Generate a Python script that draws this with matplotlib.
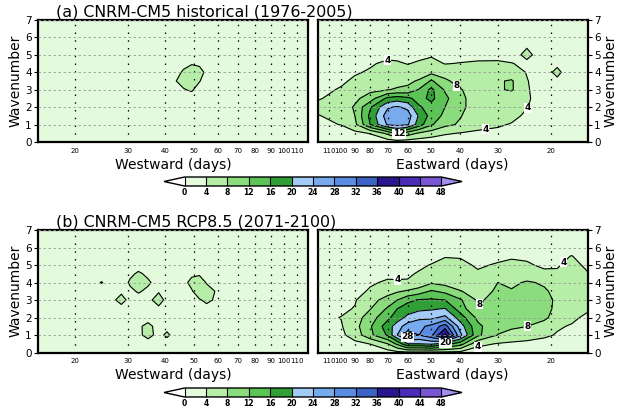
import numpy as np
import matplotlib
matplotlib.use('Agg')
import matplotlib.pyplot as plt
from matplotlib.colors import ListedColormap, BoundaryNorm

# ---- grid: wavenumber rows, period (days) columns ----
wavenumber = [0, 0.5, 1, 1.5, 2, 2.5, 3, 3.5, 4, 4.5, 5, 5.5, 6, 6.5, 7]
periods_east = [120, 100, 90, 80, 70, 65, 60, 55, 50, 45, 40, 35, 30, 27, 24, 21, 19, 17, 15]
periods_west = [15, 18, 21, 24.5, 26.5, 28.5, 30.5, 32.5, 35, 38, 40.5, 43, 46, 49, 52, 55, 60, 70, 85, 100, 120]

# (a) historical, westward
power_a_west = [
    [2.0] * 21,
    [2.4] * 21,
    [2.6] * 21,
    [2.7] * 21,
    [2.8, 2.8, 2.8, 2.8, 2.8, 2.8, 2.8, 2.8, 2.8, 2.8, 2.8, 2.9, 3.0, 3.0, 2.9, 2.8, 2.8, 2.8, 2.8, 2.8, 2.8],
    [2.8, 2.8, 2.8, 2.8, 2.8, 2.8, 2.8, 2.8, 2.8, 2.8, 2.9, 3.0, 3.3, 3.3, 3.1, 2.9, 2.8, 2.8, 2.8, 2.8, 2.8],
    [2.8, 2.8, 2.8, 2.8, 2.8, 2.8, 2.8, 2.8, 2.8, 2.9, 3.0, 3.3, 3.9, 4.2, 3.3, 3.0, 2.9, 2.8, 2.8, 2.8, 2.8],
    [2.8, 2.8, 2.8, 2.8, 2.8, 2.8, 2.8, 2.8, 2.8, 2.9, 3.1, 3.9, 4.5, 4.8, 4.1, 3.2, 2.9, 2.8, 2.8, 2.8, 2.8],
    [2.8, 2.8, 2.8, 2.8, 2.8, 2.8, 2.8, 2.8, 2.8, 2.9, 3.0, 3.2, 4.3, 4.7, 4.3, 3.8, 3.0, 2.8, 2.8, 2.8, 2.8],
    [2.7, 2.7, 2.7, 2.7, 2.7, 2.7, 2.7, 2.7, 2.7, 2.8, 2.9, 3.0, 3.4, 3.9, 3.85, 3.3, 2.9, 2.7, 2.7, 2.7, 2.7],
    [2.7, 2.7, 2.7, 2.7, 2.7, 2.7, 2.7, 2.7, 2.7, 2.7, 2.8, 2.8, 2.9, 3.1, 3.0, 2.8, 2.7, 2.7, 2.7, 2.7, 2.7],
    [2.6] * 21,
    [2.5] * 21,
    [2.4] * 21,
    [2.2] * 21,
]

# (a) historical, eastward
power_a_east = [
    [1.5, 1.5, 1.5, 1.5, 1.8, 2.0, 2.0, 1.8, 1.6, 1.5, 1.5, 1.5, 1.5, 1.5, 1.5, 1.5, 1.5, 1.5, 1.5],
    [2.0, 2.5, 3.0, 4.2, 9.0, 13.0, 10.0, 7.5, 6.0, 4.5, 3.8, 3.5, 3.2, 3.0, 2.6, 2.2, 2.0, 2.0, 2.0],
    [3.2, 4.1, 7.0, 16.0, 24.5, 25.5, 24.5, 18.0, 12.5, 9.0, 7.5, 5.0, 4.4, 3.8, 2.8, 2.3, 2.1, 2.0, 2.0],
    [3.8, 5.0, 8.0, 17.0, 26.0, 27.5, 26.0, 19.5, 14.5, 11.0, 8.2, 6.0, 5.0, 4.8, 3.5, 2.5, 2.2, 2.0, 2.0],
    [5.0, 5.5, 8.5, 15.5, 23.5, 24.5, 23.0, 16.5, 14.5, 12.0, 9.0, 6.0, 5.5, 5.0, 4.1, 3.0, 2.5, 2.0, 2.0],
    [3.7, 5.0, 7.0, 10.0, 17.0, 18.0, 17.0, 14.5, 17.0, 13.0, 9.0, 6.0, 5.5, 5.0, 4.3, 3.0, 2.5, 2.0, 2.0],
    [3.0, 4.3, 5.5, 7.0, 7.8, 8.5, 9.0, 12.3, 17.0, 11.5, 8.3, 6.0, 7.5, 8.5, 4.2, 3.0, 2.5, 2.0, 2.0],
    [2.5, 3.5, 4.5, 5.5, 6.0, 6.5, 7.0, 8.5, 12.5, 9.0, 6.0, 5.5, 7.5, 8.5, 4.1, 3.0, 3.5, 2.5, 2.0],
    [2.0, 3.0, 3.7, 4.3, 5.0, 5.0, 5.0, 5.5, 7.0, 5.5, 5.0, 4.8, 5.0, 5.0, 3.9, 3.0, 4.6, 2.5, 2.0],
    [2.0, 2.5, 3.0, 3.7, 4.5, 4.3, 3.9, 4.3, 4.8, 3.9, 4.1, 4.3, 4.4, 4.1, 3.5, 3.0, 3.5, 2.5, 2.0],
    [1.5, 2.0, 2.3, 2.8, 3.3, 3.3, 3.2, 3.4, 3.7, 3.0, 3.2, 3.3, 3.2, 3.0, 4.6, 2.8, 2.5, 2.2, 2.0],
    [1.5, 1.8, 2.0, 2.3, 2.6, 2.7, 2.7, 2.8, 3.0, 2.7, 2.8, 2.8, 2.8, 2.8, 3.8, 2.6, 2.3, 2.0, 1.8],
    [1.3, 1.5, 1.7, 2.0, 2.2, 2.3, 2.3, 2.4, 2.5, 2.4, 2.4, 2.4, 2.4, 2.4, 2.6, 2.3, 2.1, 1.9, 1.7],
    [1.2, 1.4, 1.5, 1.7, 1.9, 2.0, 2.0, 2.0, 2.1, 2.0, 2.0, 2.0, 2.0, 2.0, 2.1, 2.0, 1.9, 1.7, 1.5],
    [1.0, 1.1, 1.2, 1.3, 1.5, 1.6, 1.6, 1.6, 1.7, 1.6, 1.6, 1.6, 1.6, 1.6, 1.6, 1.6, 1.5, 1.4, 1.3],
]

# (b) RCP8.5, westward
power_b_west = [
    [2.0] * 21,
    [2.5, 2.5, 2.5, 2.5, 2.5, 2.5, 2.6, 2.8, 3.2, 2.9, 3.0, 2.7, 2.5, 2.5, 2.5, 2.5, 2.5, 2.5, 2.5, 2.5, 2.5],
    [2.6, 2.6, 2.6, 2.7, 2.7, 2.8, 3.0, 3.6, 4.6, 3.4, 4.4, 3.3, 2.9, 2.8, 2.7, 2.7, 2.7, 2.6, 2.6, 2.6, 2.6],
    [2.6, 2.6, 2.7, 2.7, 2.8, 2.9, 3.1, 3.7, 4.5, 3.3, 3.3, 3.0, 2.9, 2.8, 2.8, 2.8, 2.7, 2.7, 2.6, 2.6, 2.6],
    [2.6, 2.7, 2.7, 2.8, 2.9, 3.0, 3.0, 3.1, 3.3, 3.1, 3.0, 2.9, 2.9, 2.9, 2.9, 2.9, 2.8, 2.7, 2.6, 2.6, 2.6],
    [2.6, 2.7, 2.8, 2.9, 3.0, 3.2, 3.1, 3.0, 3.0, 3.5, 3.1, 3.0, 3.0, 3.0, 3.1, 3.3, 3.0, 2.8, 2.6, 2.6, 2.6],
    [2.6, 2.7, 2.8, 3.0, 3.5, 4.8, 3.3, 3.3, 3.4, 5.0, 3.3, 3.1, 3.1, 3.2, 3.8, 4.5, 3.5, 2.9, 2.7, 2.6, 2.6],
    [2.6, 2.7, 2.8, 3.0, 3.2, 3.6, 3.6, 4.2, 3.6, 3.8, 3.2, 3.1, 3.2, 3.8, 5.3, 5.0, 3.6, 2.9, 2.7, 2.6, 2.6],
    [2.6, 2.7, 2.9, 4.1, 3.0, 3.0, 4.3, 5.5, 4.3, 3.2, 3.0, 3.1, 3.4, 4.6, 5.2, 3.8, 3.0, 2.8, 2.7, 2.6, 2.6],
    [2.6, 2.6, 2.8, 3.0, 3.0, 3.1, 3.6, 4.3, 3.6, 3.1, 2.9, 2.9, 3.1, 3.6, 3.7, 3.3, 2.9, 2.7, 2.6, 2.6, 2.6],
    [2.5, 2.5, 2.6, 2.8, 2.9, 3.0, 3.1, 3.2, 3.1, 2.9, 2.8, 2.8, 2.8, 2.9, 2.9, 2.8, 2.7, 2.6, 2.5, 2.5, 2.5],
    [2.4] * 21,
    [2.3] * 21,
    [2.2] * 21,
    [2.0] * 21,
]

# (b) RCP8.5, eastward
power_b_east = [
    [1.5, 1.5, 1.6, 1.8, 2.2, 2.8, 3.0, 3.0, 3.0, 3.0, 2.8, 2.2, 1.8, 1.7, 1.6, 1.5, 1.5, 1.5, 1.5],
    [2.0, 2.5, 3.2, 4.1, 8.0, 13.0, 20.0, 20.0, 21.0, 18.0, 14.0, 5.0, 3.8, 3.5, 3.2, 3.0, 2.8, 2.5, 2.3],
    [2.5, 3.3, 5.5, 11.0, 16.5, 24.0, 30.0, 28.0, 31.0, 41.0, 25.0, 13.0, 7.9, 6.0, 5.5, 4.5, 3.8, 3.3, 3.0],
    [2.8, 3.7, 6.5, 11.5, 18.0, 22.0, 26.0, 27.0, 29.0, 34.0, 22.0, 13.0, 9.0, 9.0, 8.1, 6.0, 4.3, 3.8, 3.3],
    [3.0, 4.1, 6.0, 10.0, 15.0, 18.0, 21.0, 23.0, 23.0, 25.0, 18.0, 11.0, 9.0, 9.5, 9.0, 9.0, 6.0, 4.5, 3.5],
    [2.5, 3.3, 4.2, 7.8, 12.5, 16.0, 18.0, 19.0, 19.5, 20.2, 14.0, 8.2, 9.5, 10.0, 9.5, 9.5, 7.0, 5.5, 4.3],
    [2.0, 3.0, 3.7, 6.5, 9.5, 12.0, 15.0, 16.3, 16.5, 16.0, 12.5, 7.5, 9.0, 9.0, 9.0, 9.0, 7.5, 5.5, 5.0],
    [1.8, 2.5, 3.2, 4.3, 6.5, 7.5, 8.5, 10.0, 12.5, 11.0, 8.2, 6.5, 8.5, 8.4, 8.5, 8.5, 7.0, 5.0, 5.0],
    [1.5, 2.0, 2.8, 3.7, 4.3, 4.2, 4.2, 5.0, 7.5, 6.5, 6.0, 5.5, 8.0, 7.0, 8.5, 7.5, 6.0, 5.0, 4.8],
    [1.3, 1.7, 2.3, 3.0, 3.5, 3.6, 3.7, 4.2, 5.0, 5.5, 5.5, 4.3, 4.8, 5.0, 5.5, 4.5, 4.3, 4.8, 4.1],
    [1.2, 1.5, 2.0, 2.5, 3.0, 3.0, 3.1, 3.6, 4.1, 4.6, 4.6, 3.7, 4.2, 4.4, 4.3, 3.6, 3.8, 4.6, 3.6],
    [1.1, 1.3, 1.6, 2.0, 2.4, 2.5, 2.6, 2.9, 3.3, 3.9, 3.8, 3.2, 3.5, 3.8, 3.6, 3.2, 3.2, 4.1, 2.8],
    [1.0, 1.2, 1.4, 1.7, 2.0, 2.1, 2.2, 2.4, 2.6, 2.8, 2.8, 2.6, 2.7, 2.8, 2.7, 2.6, 2.5, 2.8, 2.3],
    [0.9, 1.0, 1.2, 1.4, 1.7, 1.8, 1.9, 2.0, 2.1, 2.2, 2.2, 2.1, 2.2, 2.2, 2.2, 2.1, 2.0, 2.1, 1.9],
    [0.8, 0.9, 1.0, 1.2, 1.4, 1.5, 1.6, 1.7, 1.8, 1.8, 1.8, 1.8, 1.8, 1.8, 1.8, 1.7, 1.7, 1.7, 1.6],
]

levels = [0, 4, 8, 12, 16, 20, 24, 28, 32, 36, 40, 44, 48]
colors = ['#e4fadc', '#b6eea8', '#8adc7c', '#5cc456', '#30a036',
          '#a2cbf6', '#78aaee', '#5a8ce4', '#3c64c8',
          '#2a168e', '#4a2cb6', '#7a56d4']
xticks_west = [20, 30, 40, 50, 60, 70, 80, 90, 100, 110]
xticks_east = [110, 100, 90, 80, 70, 60, 50, 40, 30, 20]
yticks = [0, 1, 2, 3, 4, 5, 6, 7]

titles = ['(a) CNRM-CM5 historical (1976-2005)', '(b) CNRM-CM5 RCP8.5 (2071-2100)']

# contour label anchors: level -> list of (period, wavenumber)
labels_a = {4: [(70, 4.65), (33, 0.9), (24.3, 2.1)], 8: [(42, 3.0)], 12: [(64, 0.4)]}
labels_b = {4: [(65, 4.0), (35, 0.35), (17.5, 4.9)], 8: [(34, 2.65), (24, 1.55)],
            20: [(45, 0.6)], 28: [(60, 0.85)]}

cmap = ListedColormap(colors)
cmap.set_under('white')
cmap.set_over('#a48ef0')
norm = BoundaryNorm(levels, cmap.N)

fig = plt.figure(figsize=(6.25, 4.16), dpi=100)


def draw_panel(ax, per, z, side, anchors=None):
    z = np.array(z)
    cf = ax.contourf(per, wavenumber, z, levels=levels, cmap=cmap, norm=norm, extend='both')
    lines = {}
    for lev in levels[1:]:
        if z.max() > lev:
            lines[lev] = ax.contour(per, wavenumber, z, levels=[lev], colors='k', linewidths=0.8)
    ax.set_xscale('log')
    if side == 'west':
        ax.set_xlim(15, 120)
        ax.set_xticks(xticks_west, [str(t) for t in xticks_west])
        ax.set_xlabel('Westward (days)', fontsize=10, labelpad=3)
    else:
        ax.set_xlim(120, 15)
        ax.set_xticks(xticks_east, [str(t) for t in xticks_east])
        ax.set_xlabel('Eastward (days)', fontsize=10, labelpad=3)
        ax.yaxis.tick_right()
        ax.yaxis.set_label_position('right')
    ax.xaxis.set_minor_locator(matplotlib.ticker.NullLocator())
    ax.set_ylim(0, 7)
    ax.set_yticks(yticks)
    ax.set_ylabel('Wavenumber', fontsize=10, labelpad=2)
    ax.tick_params(axis='x', length=0, pad=4, labelsize=5.0)
    ax.tick_params(axis='y', length=3, width=0.8, pad=1.5, labelsize=7.5)
    ax.set_axisbelow(False)
    ax.xaxis.grid(True, linestyle=(0, (1.2, 5)), color='k', linewidth=0.9)
    ax.yaxis.grid(True, linestyle=(0, (3, 3)), color='0.6', linewidth=0.6)
    for s in ax.spines.values():
        s.set_linewidth(1.6)
    if anchors:
        for lev, pts in anchors.items():
            txt = lines[lev].clabel(manual=pts, fmt='%d', fontsize=6.5,
                                    inline=True, inline_spacing=1)
            for t in txt:
                t.set_rotation(0)
                t.set_fontweight('bold')
                t.set_bbox(dict(facecolor='white', edgecolor='none', pad=0.3))
    return cf


rows = [
    (0.6587, 0.2933, power_a_west, power_a_east, labels_a, 0.5529, 0.960),
    (0.1526, 0.2945, power_b_west, power_b_east, labels_b, 0.0457, 0.455),
]

for i, (bot, hgt, zw, ze, anch, cbot, ty) in enumerate(rows):
    axw = fig.add_axes([0.0608, bot, 0.432, hgt])
    axe = fig.add_axes([0.508, bot, 0.4328, hgt])
    cf = draw_panel(axw, periods_west, zw, 'west')
    draw_panel(axe, periods_east, ze, 'east', anch)
    fig.text(56 / 625, ty, titles[i], fontsize=11.4, ha='left', va='baseline')

    cax = fig.add_axes([0.2624, cbot, 0.4768, 0.0216])
    cb = fig.colorbar(cf, cax=cax, orientation='horizontal', ticks=levels,
                      drawedges=True, extendfrac=0.08)
    cb.outline.set_linewidth(1.0)
    cb.dividers.set_linewidth(0.8)
    cax.tick_params(length=0, pad=1.5, labelsize=5.5)
    for t in cax.get_xticklabels():
        t.set_fontweight('bold')

fig.savefig('out.png', dpi=100)
